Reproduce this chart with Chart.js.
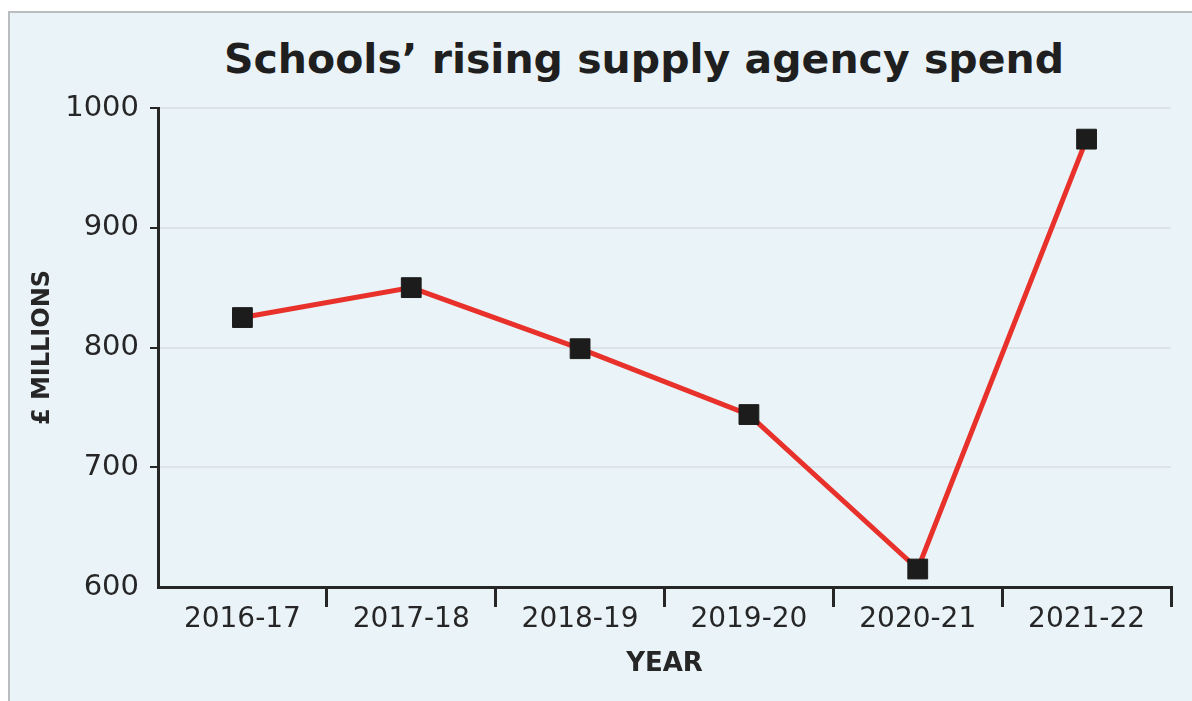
<!DOCTYPE html>
<html>
<head>
<meta charset="utf-8">
<title>Schools' rising supply agency spend</title>
<script src="https://cdn.jsdelivr.net/npm/chart.js@4/dist/chart.umd.min.js"></script>
<style>
  html,body{margin:0;padding:0;background:#fff;width:1192px;height:701px;overflow:hidden;}
  #panel{position:absolute;left:8px;top:11px;width:1200px;height:700px;background:#eaf3f7;border:2px solid #b9bdc0;box-sizing:border-box;}
  #title{position:absolute;left:0;top:35px;width:1288px;line-height:48px;text-align:center;
    font:bold 41px "DejaVu Sans",sans-serif;color:#1f1f1f;margin:0;}
  #chart{position:absolute;left:0;top:0;}
</style>
</head>
<body>
<div id="panel"></div>
<h1 id="title">Schools’ rising supply agency spend</h1>
<canvas id="chart" width="1192" height="701"></canvas>
<script>
(function(){
  'use strict';

  // data
  const years = ['2016-17','2017-18','2018-19','2019-20','2020-21','2021-22'];
  const spend = [825, 850, 799, 744, 615, 974];   // £ millions
  const yTicks = [600, 700, 800, 900, 1000];

  const INK = '#262626';
  const FONT = '"DejaVu Sans", sans-serif';

  const ctx = document.getElementById('chart').getContext('2d');
  new Chart(ctx, {
    type: 'line',
    data: {
      labels: years,
      datasets: [{
        label: '£ millions',
        data: spend,
        borderColor: '#e8312b',
        borderWidth: 5,
        tension: 0,
        pointStyle: 'rect',
        pointRadius: 14,
        pointHoverRadius: 14,
        pointBackgroundColor: '#1c1c1c',
        pointBorderColor: '#1c1c1c',
        pointBorderWidth: 1
      }]
    },
    options: {
      responsive: false,
      animation: false,
      layout: { padding: { top: 108, right: 21, bottom: 0, left: 0 } },
      plugins: { legend: { display: false }, tooltip: { enabled: false } },
      scales: {
        x: {
          offset: true,
          afterFit: s => { s.height = 114; },
          border: { color: INK, width: 3 },
          grid: {
            offset: true, drawOnChartArea: false, tickLength: 20, lineWidth: 3,
            tickColor: c => c.index === 0 ? 'rgba(0,0,0,0)' : INK
          },
          ticks: { color: INK, padding: -4, font: { family: FONT, size: 28 } },
          title: {
            display: true, text: 'YEAR', color: INK,
            padding: { top: 0, bottom: 21 },
            font: { family: FONT, size: 26, weight: 'bold' }
          }
        },
        y: {
          min: yTicks[0],
          max: yTicks[yTicks.length - 1],
          afterFit: s => { s.width = 158; },
          afterBuildTicks: s => { s.ticks = yTicks.map(v => ({ value: v })); },
          border: { color: INK, width: 3 },
          grid: {
            color: '#dde4e7', lineWidth: 2, tickLength: 8, tickWidth: 2,
            tickColor: c => c.index === 0 ? 'rgba(0,0,0,0)' : INK
          },
          ticks: {
            color: INK, padding: 11, font: { family: FONT, size: 29 },
            callback: v => String(v)
          },
          title: {
            display: true, text: '£ MILLIONS', color: INK,
            padding: { top: 28, bottom: 0 },
            font: { family: FONT, size: 24, weight: 'bold' }
          }
        }
      }
    }
  });
})();
</script>
</body>
</html>
